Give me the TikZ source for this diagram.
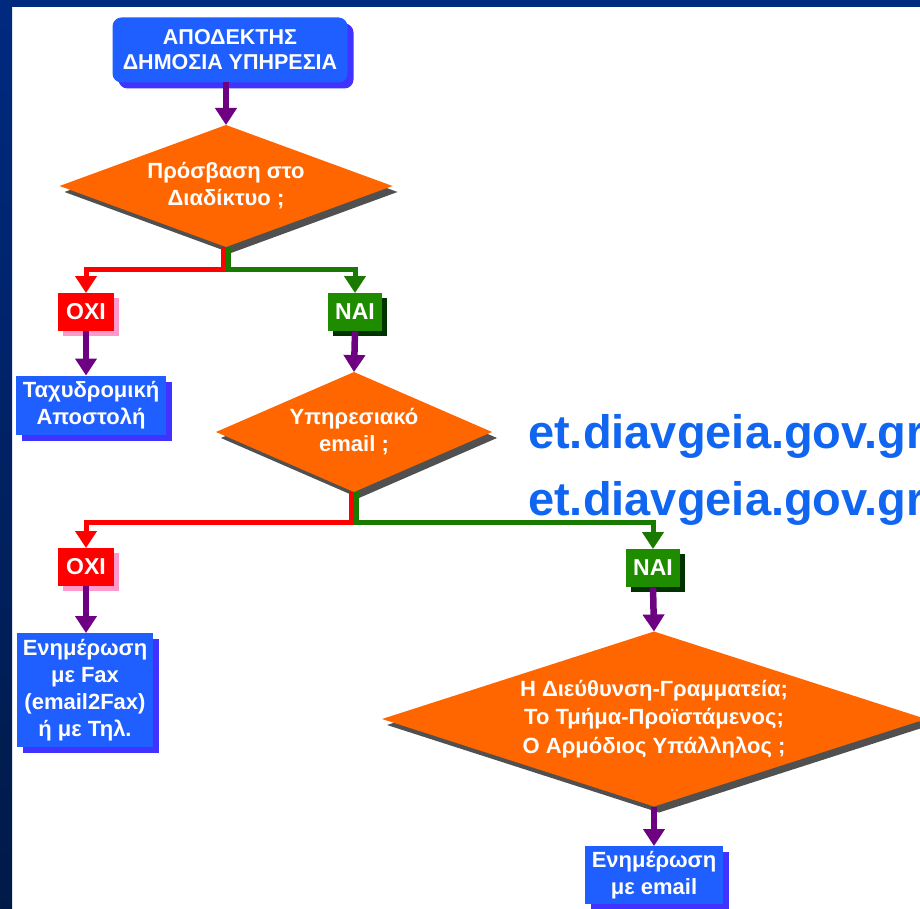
\documentclass[tikz,border=0pt]{standalone}
\usepackage{fontspec}
\setmainfont{Liberation Sans}
\usetikzlibrary{shapes.geometric, arrows.meta, shadows}

\definecolor{frameblue}{RGB}{0,42,128}
\definecolor{framedark}{RGB}{0,26,72}
\definecolor{boxblue}{RGB}{31,95,255}
\definecolor{boxshade}{RGB}{64,51,255}
\definecolor{askorange}{RGB}{255,102,0}
\definecolor{askshade}{RGB}{80,80,80}
\definecolor{nored}{RGB}{255,0,0}
\definecolor{noshade}{RGB}{255,153,204}
\definecolor{yesgreen}{RGB}{31,140,0}
\definecolor{yesshade}{RGB}{0,51,0}
\definecolor{yesline}{RGB}{26,122,0}
\definecolor{flowpurple}{RGB}{110,0,130}
\definecolor{urlblue}{RGB}{16,102,240}

\begin{document}
\begin{tikzpicture}[x=1pt, y=-1pt, >={Triangle[width=21pt,length=17pt]},
  font=\bfseries\fontsize{22}{27}\selectfont,
  box/.style={rectangle, fill=boxblue, text=white, align=center, inner sep=0pt, outer sep=0pt,
    drop shadow={shadow xshift=6pt, shadow yshift=-6pt, fill=boxshade, opacity=1}},
  ask/.style={diamond, fill=askorange, text=white, align=center, inner sep=0pt, outer sep=0pt,
    drop shadow={shadow xshift=5pt, shadow yshift=-6pt, fill=askshade, opacity=1}},
  nobox/.style={rectangle, fill=nored, text=white, inner sep=0pt, outer sep=0pt,
    minimum width=56pt, minimum height=38pt, font=\bfseries\fontsize{23}{27}\selectfont,
    drop shadow={shadow xshift=5pt, shadow yshift=-5pt, fill=noshade, opacity=1}},
  yesbox/.style={rectangle, fill=yesgreen, text=white, inner sep=0pt, outer sep=0pt,
    minimum width=54pt, minimum height=38pt, font=\bfseries\fontsize{23}{27}\selectfont,
    drop shadow={shadow xshift=5pt, shadow yshift=-5pt, fill=yesshade, opacity=1}},
  flow/.style={->, line width=6.5pt, flowpurple},
  nobranch/.style={->, line width=5pt, nored},
  yesbranch/.style={->, line width=5pt, yesline},
  url/.style={anchor=base west, inner sep=0pt, text=urlblue,
    font=\bfseries\fontsize{47}{50}\selectfont}]

  \useasboundingbox (0,0) rectangle (920,909);
  \clip (0,0) rectangle (920,909);
  \fill[white] (0,0) rectangle (920,909);
  \fill[frameblue] (0,0) rectangle (920,7);
  \shade[top color=frameblue, bottom color=framedark] (0,0) rectangle (12,909);

  \node[box, rounded corners=9pt, minimum width=235pt, minimum height=65pt,
    font=\bfseries\fontsize{21.5}{25}\selectfont] at (230,50) (start) {ΑΠΟΔΕΚΤΗΣ\\ΔΗΜΟΣΙΑ ΥΠΗΡΕΣΙΑ};
  \node[ask, aspect=2.7, minimum width=333pt, minimum height=122pt] at (226,186) (access) {Πρόσβαση στο\\Διαδίκτυο ;};

  \node[nobox] at (86,312) (no1) {ΟΧΙ};
  \node[yesbox] at (355,312) (yes1) {ΝΑΙ};
  \node[box, minimum width=150pt, minimum height=59pt] at (91,405) (post) {Ταχυδρομική\\Αποστολή};
  \node[ask, aspect=2.3, minimum width=276pt, minimum height=120pt] at (354,432) (email) {Υπηρεσιακό\\email ;};

  \node[nobox] at (86,567) (no2) {ΟΧΙ};
  \node[yesbox] at (653,568) (yes2) {ΝΑΙ};
  \node[box, minimum width=136pt, minimum height=114pt] at (85,690) (fax) {Ενημέρωση\\με Fax\\(email2Fax)\\ή με Τηλ.};
  \node[ask, aspect=3.1, minimum width=544pt, minimum height=175pt,
    font=\bfseries\fontsize{22}{28.5}\selectfont] at (654,719) (office)
    {Η Διεύθυνση-Γραμματεία;\\Το Τμήμα-Προϊστάμενος;\\Ο Αρμόδιος Υπάλληλος ;};
  \node[box, minimum width=138pt, minimum height=58pt] at (654,875) (mail) {Ενημέρωση\\με email};

  \node[url] at (528,448) (url1) {et.diavgeia.gov.gr};
  \node[url] at (528,515) (url2) {et.diavgeia.gov.gr};

  % connectors
  \draw[flow] (start.south -| access.north) -- (access.north);
  \draw[yesbranch] ([xshift=2.5pt]access.south) -- ++(0,22) -| (yes1.north);
  \draw[nobranch] ([xshift=-2.5pt]access.south) -- ++(0,22) -| (no1.north);
  \draw[flow] (no1.south) -- (no1.south |- post.north);
  \draw[flow] (yes1.south) -- (email.north);
  \draw[yesbranch] ([xshift=2.5pt]email.south) -- ++(0,30) -| (yes2.north);
  \draw[nobranch] ([xshift=-2.5pt]email.south) -- ++(0,30) -| (no2.north);
  \draw[flow] (no2.south) -- (no2.south |- fax.north);
  \draw[flow] (yes2.south) -- (office.north);
  \draw[flow] (office.south) -- (mail.north);
\end{tikzpicture}
\end{document}
